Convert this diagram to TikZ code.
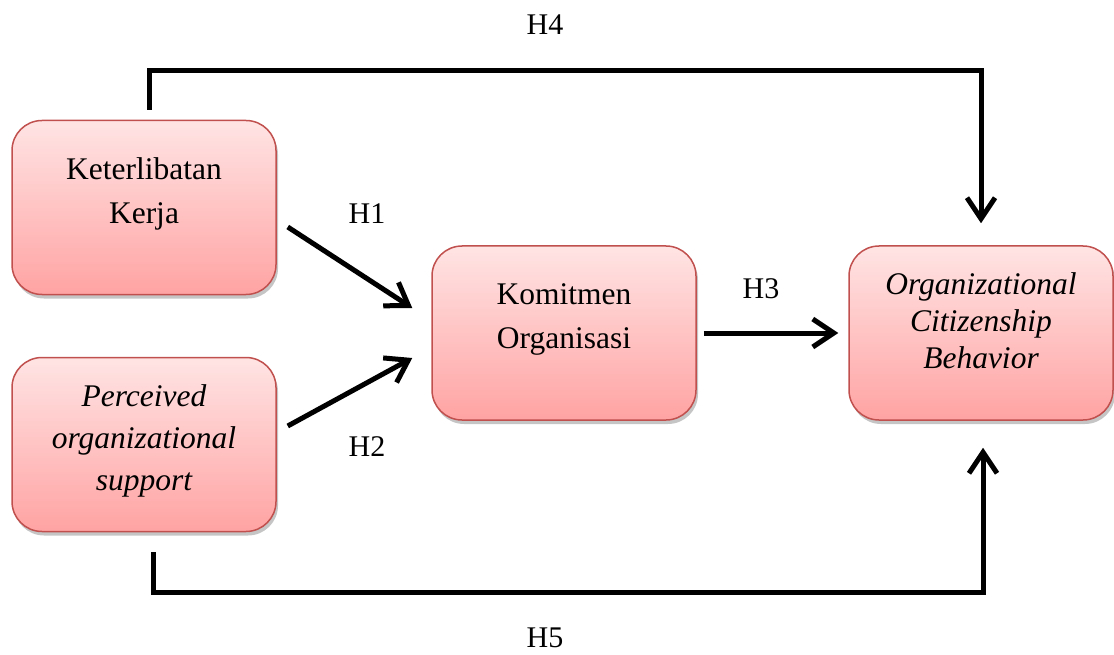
\documentclass[tikz,border=0pt]{standalone}
\usepackage{fontspec}
\setmainfont{Liberation Serif}
\usetikzlibrary{arrows.meta,positioning,shadows,shapes}

\definecolor{boxline}{RGB}{192,80,77}
\definecolor{boxtop}{RGB}{255,228,228}
\definecolor{boxbottom}{RGB}{255,163,163}

\tikzset{
    varbox/.style={draw=boxline,line width=1.5pt,rounded corners=30pt,top color=boxtop,bottom color=boxbottom,
        minimum width=264pt,minimum height=174pt,
        drop shadow={shadow xshift=2pt,shadow yshift=-4pt,fill=black!45,opacity=0.5}},
    boxtext/.style={align=center,inner sep=0pt,font=\fontsize{31.5}{44}\selectfont},
    hlabel/.style={inner sep=0pt,font=\fontsize{30}{36}\selectfont},
    hyp/.style={line width=5pt,-{Straight Barb[length=21pt,width=28pt]}}
}

\begin{document}
\begin{tikzpicture}[x=1pt,y=1pt]
    \useasboundingbox (0,0) rectangle (1114,-655);

    % variables
    \node[varbox] (kerja) at (144,-207.5) {};
    \node[varbox] (pos) at (144,-444.5) {};
    \node[varbox] (komitmen) at (564,-333) {};
    \node[varbox] (ocb) at (981,-333) {};

    \node[boxtext] (kerjatext) at ([yshift=14pt]kerja.center) {Keterlibatan\\Kerja};
    \node[boxtext,font=\fontsize{31.5}{42}\selectfont\itshape] (postext) at ([yshift=4pt]pos.center) {Perceived\\organizational\\support};
    \node[boxtext] (komitmentext) at ([yshift=14pt]komitmen.center) {Komitmen\\Organisasi};
    \node[boxtext,font=\fontsize{31.5}{37}\selectfont\itshape] (ocbtext) at ([yshift=12pt]ocb.center) {Organizational\\Citizenship\\Behavior};

    % hypotheses
    \draw[hyp] ([shift={(11,-19.5)}]kerja.east) -- ([shift={(-19,25)}]komitmen.west);
    \draw[hyp] ([shift={(11,18.5)}]pos.east) -- ([shift={(-19,-25)}]komitmen.west);
    \draw[hyp,shorten <=7pt,shorten >=10pt] (komitmen) -- (ocb);
    \draw[hyp] ([shift={(5,10)}]kerja.north) -- ++(0,39) -| ([yshift=22pt]ocb.north);
    \draw[hyp] ([shift={(9,-20)}]pos.south) -- ++(0,-40) -| ([shift={(2,-27)}]ocb.south);

    \node[hlabel] (h1) at (367,-214) {H1};
    \node[hlabel] (h2) at (367,-447) {H2};
    \node[hlabel] (h3) at (761,-289) {H3};
    \node[hlabel] (h4) at (545,-25) {H4};
    \node[hlabel] (h5) at (545,-638) {H5};
\end{tikzpicture}
\end{document}
